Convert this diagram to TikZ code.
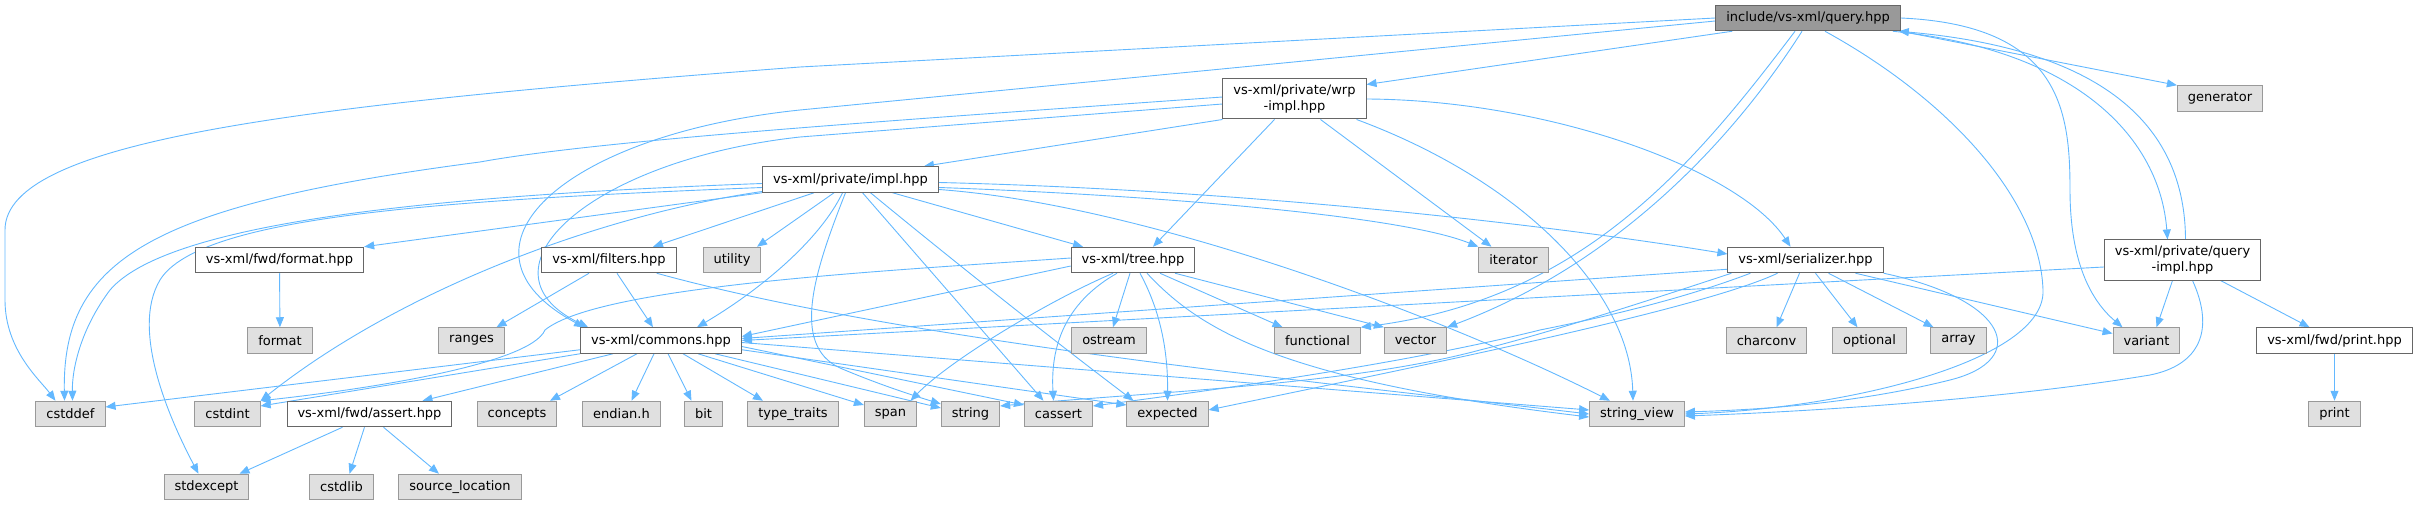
\documentclass[tikz,border=0pt]{standalone}
\usepackage{fontspec}
\setmainfont{DejaVu Sans}
\usetikzlibrary{arrows.meta}

\definecolor{edgeblue}{HTML}{63B8FF}
\definecolor{sysfill}{HTML}{E0E0E0}
\definecolor{sysline}{HTML}{999999}
\definecolor{fileline}{HTML}{666666}
\definecolor{rootfill}{HTML}{999999}

\pgfdeclarelayer{edges}
\pgfsetlayers{edges,main}

\tikzset{
  hdr/.style={draw, line width=1pt, inner xsep=10.5pt, inner ysep=2pt,
    minimum height=25.5pt, font=\fontsize{13}{15.5}\selectfont},
  sysbox/.style={hdr, draw=sysline, fill=sysfill},
  filebox/.style={hdr, draw=fileline, fill=white},
  rootbox/.style={hdr, draw=fileline, fill=rootfill},
  twoline/.style={align=center, minimum height=40pt, inner ysep=1pt},
  dep/.style={draw=edgeblue, line width=0.9pt, -{Triangle[length=10pt,width=8pt]}},
}

\begin{document}
\begin{tikzpicture}[x=1pt,y=-1pt]
    \useasboundingbox (0,0) rectangle (2418,505);

    % Headers of the project
    \node[rootbox] (query) at (1808,18) {include/vs-xml/query.hpp};
    \node[filebox, twoline] (wrp) at (1294.5,99) {vs-xml/private/wrp\\-impl.hpp};
    \node[filebox] (impl) at (850.5,179.5) {vs-xml/private/impl.hpp};
    \node[filebox] (serializer) at (1805.5,260) {vs-xml/serializer.hpp};
    \node[filebox, twoline] (queryimpl) at (2182.5,260) {vs-xml/private/query\\-impl.hpp};
    \node[filebox] (fmthpp) at (279.5,260) {vs-xml/fwd/format.hpp};
    \node[filebox] (filters) at (609,260) {vs-xml/filters.hpp};
    \node[filebox] (tree) at (1133,260) {vs-xml/tree.hpp};
    \node[filebox] (commons) at (661,340.5) {vs-xml/commons.hpp};
    \node[filebox] (printhpp) at (2334.5,340.5) {vs-xml/fwd/print.hpp};
    \node[filebox] (asserthpp) at (369.5,414) {vs-xml/fwd/assert.hpp};

    % System headers
    \node[sysbox] (generator) at (2220,98.5) {generator};
    \node[sysbox] (utility) at (732,260) {utility};
    \node[sysbox] (iterator) at (1513.5,260) {iterator};
    \node[sysbox] (format) at (280,340.5) {format};
    \node[sysbox] (ranges) at (471.5,340.5) {ranges};
    \node[sysbox] (ostream) at (1109,340.5) {ostream};
    \node[sysbox] (functional) at (1317.5,340.5) {functional};
    \node[sysbox] (vector) at (1415.5,340.5) {vector};
    \node[sysbox] (charconv) at (1766.5,340.5) {charconv};
    \node[sysbox] (optional) at (1869.5,340.5) {optional};
    \node[sysbox] (array) at (1958.5,340.5) {array};
    \node[sysbox] (variant) at (2146.5,340.5) {variant};
    \node[sysbox] (cstddef) at (70.5,414) {cstddef};
    \node[sysbox] (cstdint) at (227.5,414) {cstdint};
    \node[sysbox] (concepts) at (517,414) {concepts};
    \node[sysbox] (endian) at (621.5,414) {endian.h};
    \node[sysbox] (bit) at (703.5,414) {bit};
    \node[sysbox] (typetraits) at (793,414) {type\_traits};
    \node[sysbox] (span) at (890.5,414) {span};
    \node[sysbox] (string) at (970.5,414) {string};
    \node[sysbox] (cassert) at (1058.5,414) {cassert};
    \node[sysbox] (expected) at (1167.5,414) {expected};
    \node[sysbox] (stringview) at (1637,414) {string\_view};
    \node[sysbox] (print) at (2334.5,414) {print};
    \node[sysbox] (stdexcept) at (206.5,487) {stdexcept};
    \node[sysbox] (cstdlib) at (341.5,487) {cstdlib};
    \node[sysbox] (sourceloc) at (460,487) {source\_location};

    \begin{pgfonlayer}{edges}
    % query.hpp
    \draw[dep] (query.west) -- (800,67) .. controls (300,105) and (5,140) .. (5,230) -- (5,300) .. controls (5,350) and (40,380) .. ([xshift=-15pt]cstddef.north);
    \draw[dep] ([yshift=-3pt]query.west) -- (800,110) .. controls (560,135) and (440,250) .. ([xshift=4pt]commons.north west);
    \draw[dep] ([xshift=17pt]query.south west) -- ([yshift=-6pt]wrp.north east);
    \draw[dep] ([xshift=-13pt]query.south) .. controls (1690,170) and (1580,300) .. (functional.north east);
    \draw[dep] ([xshift=-6pt]query.south) .. controls (1720,160) and (1600,270) .. (vector.north east);
    \draw[dep] ([xshift=17pt]query.south) .. controls (1950,100) and (2040,200) .. (2043,290) .. controls (2046,360) and (1850,408) .. (stringview.east);
    \draw[dep] (query.east) .. controls (2060,25) and (2070,110) .. (2070,190) .. controls (2070,260) and (2090,300) .. ([xshift=-24pt]variant.north);
    \draw[dep] (query.south east) -- (generator.north west);
    \draw[dep] ([xshift=-8pt]query.south east) .. controls (2080,50) and (2160,140) .. ([xshift=-15pt]queryimpl.north);

    % query-impl.hpp
    \draw[dep] ([xshift=3pt]queryimpl.north) .. controls (2185,130) and (2110,50) .. ([xshift=-2pt]query.south east);
    \draw[dep] ([xshift=-10pt]queryimpl.south) -- ([xshift=10pt]variant.north);
    \draw[dep] ([xshift=38pt]queryimpl.south) -- ([xshift=-25pt]printhpp.north);
    \draw[dep] ([xshift=10pt]queryimpl.south) .. controls (2215,330) and (2200,365) .. (2150,375) .. controls (2000,400) and (1800,412) .. ([yshift=-2pt]stringview.east);
    \draw[dep] ([yshift=-7pt]queryimpl.west) -- (commons.east);
    \draw[dep] (printhpp) -- (print);

    % wrp-impl.hpp
    \draw[dep] (wrp.south west) -- ([xshift=-15pt]impl.north east);
    \draw[dep] ([yshift=2pt]wrp.west) .. controls (900,120) and (600,140) .. (480,162) .. controls (150,205) and (62,260) .. ([xshift=-6pt]cstddef.north);
    \draw[dep] ([yshift=-5pt]wrp.west) -- (800,137) .. controls (590,160) and (470,270) .. ([xshift=8pt]commons.north west);
    \draw[dep] ([xshift=-20pt]wrp.south) -- ([xshift=20pt]tree.north);
    \draw[dep] ([xshift=26pt]wrp.south) -- ([xshift=-22pt]iterator.north);
    \draw[dep] ([xshift=-10pt]wrp.south east) .. controls (1520,180) and (1630,290) .. ([xshift=-4pt]stringview.north);
    \draw[dep] (wrp.east) .. controls (1550,100) and (1740,170) .. ([xshift=-15pt]serializer.north);

    % impl.hpp
    \draw[dep] (impl.south west) -- (fmthpp.north east);
    \draw[dep] ([xshift=52pt]impl.south west) -- ([xshift=44pt]filters.north);
    \draw[dep] ([xshift=72pt]impl.south west) -- ([xshift=25pt]utility.north);
    \draw[dep] ([xshift=-8pt]impl.south) .. controls (820,240) and (760,290) .. ([xshift=36pt]commons.north);
    \draw[dep] ([xshift=-5pt]impl.south) .. controls (815,270) and (790,345) .. (840,368) .. controls (880,385) and (915,396) .. ([yshift=10pt]string.west);
    \draw[dep] ([xshift=12pt]impl.south) -- ([xshift=-15pt]cassert.north);
    \draw[dep] ([xshift=20pt]impl.south) .. controls (940,250) and (1040,330) .. ([xshift=-34pt]expected.north);
    \draw[dep] ([xshift=42pt]impl.south) -- ([xshift=-50pt]tree.north);
    \draw[dep] ([yshift=-8pt]impl.east) .. controls (1150,195) and (1400,215) .. (iterator.north west);
    \draw[dep] ([yshift=-3pt]impl.east) .. controls (1250,190) and (1550,225) .. ([yshift=6pt]serializer.west);
    \draw[dep] ([yshift=-10pt]impl.east) .. controls (1150,205) and (1450,320) .. ([xshift=-27pt]stringview.north);
    \draw[dep] ([yshift=-4pt]impl.west) .. controls (450,195) and (170,220) .. (110,290) .. controls (80,330) and (72,370) .. ([xshift=2pt]cstddef.north);
    \draw[dep] ([yshift=-8pt]impl.west) .. controls (450,200) and (200,215) .. (160,280) .. controls (130,330) and (170,420) .. ([xshift=-8pt]stdexcept.north);
    \draw[dep] ([yshift=-12pt]impl.west) .. controls (600,215) and (400,290) .. (cstdint.north east);

    % tree.hpp
    \draw[dep] ([yshift=-6pt]tree.west) -- ([yshift=4pt]commons.east);
    \draw[dep] ([yshift=2pt]tree.west) .. controls (900,270) and (600,285) .. (545,330) .. controls (530,365) and (360,390) .. (cstdint.north east);
    \draw[dep] ([xshift=-20pt]tree.south) .. controls (1050,300) and (950,360) .. ([xshift=20pt]span.north);
    \draw[dep] ([xshift=-16pt]tree.south) .. controls (1070,300) and (1050,340) .. ([xshift=-5pt]cassert.north);
    \draw[dep] ([xshift=-3pt]tree.south) -- ([xshift=4pt]ostream.north);
    \draw[dep] ([xshift=7pt]tree.south) .. controls (1160,310) and (1168,350) .. (expected.north);
    \draw[dep] ([xshift=27pt]tree.south) -- ([xshift=-35pt]functional.north);
    \draw[dep] ([xshift=42pt]tree.south) -- (vector.north west);
    \draw[dep] ([xshift=14pt]tree.south) .. controls (1200,330) and (1280,380) .. ([yshift=-3pt]stringview.west);

    % serializer.hpp
    \draw[dep] ([yshift=4pt]serializer.south west) -- ([yshift=2pt]commons.east);
    \draw[dep] ([xshift=4pt]serializer.south west) .. controls (1620,310) and (1540,335) .. (1480,350) .. controls (1350,385) and (1150,392) .. ([yshift=8pt]string.east);
    \draw[dep] ([xshift=23pt]serializer.south west) .. controls (1680,300) and (1600,318) .. (1540,330) .. controls (1400,365) and (1200,392) .. ([yshift=8pt]cassert.east);
    \draw[dep] ([xshift=-28pt]serializer.south) .. controls (1700,310) and (1400,370) .. ([yshift=4pt]expected.east);
    \draw[dep] ([xshift=-6pt]serializer.south) -- ([xshift=10pt]charconv.north);
    \draw[dep] ([xshift=10pt]serializer.south) -- ([xshift=-12pt]optional.north);
    \draw[dep] ([xshift=23pt]serializer.south) -- ([xshift=-25pt]array.north);
    \draw[dep] ([xshift=50pt]serializer.south) -- ([yshift=7pt]variant.west);
    \draw[dep] (serializer.south east) .. controls (2010,300) and (2030,360) .. (1950,380) .. controls (1850,405) and (1750,410) .. ([yshift=2pt]stringview.east);

    % commons.hpp
    \draw[dep] ([yshift=4pt]commons.south west) -- ([yshift=7pt]cstddef.east);
    \draw[dep] (commons.south west) -- ([yshift=8pt]cstdint.east);
    \draw[dep] ([xshift=-48pt]commons.south) -- ([xshift=53pt]asserthpp.north);
    \draw[dep] ([xshift=-24pt]commons.south) -- ([xshift=33pt]concepts.north);
    \draw[dep] ([xshift=-7pt]commons.south) -- ([xshift=10pt]endian.north);
    \draw[dep] ([xshift=7pt]commons.south) -- ([xshift=-12pt]bit.north);
    \draw[dep] ([xshift=22pt]commons.south) -- ([xshift=-30pt]typetraits.north);
    \draw[dep] ([xshift=37pt]commons.south) -- ([yshift=9pt]span.west);
    \draw[dep] ([xshift=54pt]commons.south) -- ([yshift=6pt]string.west);
    \draw[dep] ([yshift=-6pt]commons.east) -- ([yshift=9pt]cassert.west);
    \draw[dep] ([yshift=4pt]commons.south east) -- ([yshift=9pt]expected.west);
    \draw[dep] ([yshift=-2pt]commons.east) -- ([yshift=4pt]stringview.west);

    % filters.hpp, format.hpp, assert.hpp
    \draw[dep] ([xshift=-20pt]filters.south) -- ([xshift=25pt]ranges.north);
    \draw[dep] ([xshift=8pt]filters.south) -- ([xshift=-8pt]commons.north);
    \draw[dep] ([xshift=-20pt]filters.south east) .. controls (900,340) and (1300,380) .. (stringview.west);
    \draw[dep] (fmthpp) -- (format);
    \draw[dep] ([xshift=-27pt]asserthpp.south) -- ([xshift=33pt]stdexcept.north);
    \draw[dep] ([xshift=-5pt]asserthpp.south) -- ([xshift=8pt]cstdlib.north);
    \draw[dep] ([xshift=14pt]asserthpp.south) -- ([xshift=-21pt]sourceloc.north);
    \end{pgfonlayer}
\end{tikzpicture}
\end{document}
